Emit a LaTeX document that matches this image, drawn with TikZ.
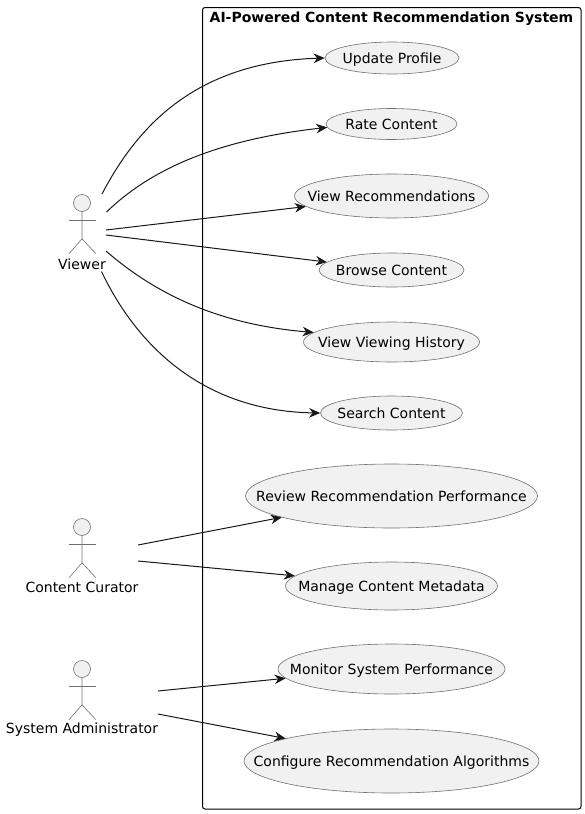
\documentclass[tikz,border=0pt]{standalone}
\usepackage{fontspec}
\setmainfont{DejaVu Sans}
\usetikzlibrary{arrows.meta,shapes.geometric}
\definecolor{ucfill}{HTML}{F1F1F1}
\definecolor{ucline}{HTML}{181818}
\definecolor{thinline}{HTML}{707070}
\newcommand{\uctext}[1]{\smash{\makebox[0pt]{\raisebox{-5pt}{#1}}}}
\tikzstyle{usecase}=[ellipse,draw=thinline,line width=.6pt,fill=ucfill,inner sep=0pt,font=\fontsize{14}{16}\selectfont,text=black]
\tikzstyle{head}=[circle,draw=thinline,line width=.6pt,fill=ucfill,minimum size=17pt,inner sep=0pt]
\tikzstyle{limb}=[draw=thinline,line width=.6pt]
\tikzstyle{actorname}=[inner sep=0pt,font=\fontsize{14}{16}\selectfont]
\tikzstyle{edge}=[draw=ucline,line width=1pt,-{Stealth[length=11pt,width=9.5pt,inset=3.5pt]}]

\begin{document}
\begin{tikzpicture}[x=1pt,y=-1pt]
        \useasboundingbox (0,0) rectangle (585,814);
        \node[draw=black,line width=1pt,rounded corners=2.5pt,minimum width=378.5pt,minimum height=801.5pt,inner sep=0pt] (system) at (391.75,408.25) {};
        \node[inner sep=0pt,font=\fontsize{14}{16}\selectfont\bfseries] (title) at (391.5,19) {AI-Powered Content Recommendation System};
        % use cases
        \node[usecase,minimum width=134pt,minimum height=32pt] (update) at (392,58) {\uctext{Update Profile}};
        \node[usecase,minimum width=131pt,minimum height=31pt] (rate) at (391.5,124) {\uctext{Rate Content}};
        \node[usecase,minimum width=194pt,minimum height=44pt] (recs) at (391.5,196) {\uctext{View Recommendations}};
        \node[usecase,minimum width=145pt,minimum height=34pt] (browse) at (391.5,270) {\uctext{Browse Content}};
        \node[usecase,minimum width=176pt,minimum height=40pt] (history) at (391.5,342) {\uctext{View Viewing History}};
        \node[usecase,minimum width=142pt,minimum height=34pt] (search) at (391.5,413) {\uctext{Search Content}};
        \node[usecase,minimum width=292pt,minimum height=64pt] (review) at (391.5,496) {\uctext{Review Recommendation Performance}};
        \node[usecase,minimum width=212pt,minimum height=48pt] (metadata) at (391.5,586) {\uctext{Manage Content Metadata}};
        \node[usecase,minimum width=227pt,minimum height=50pt] (monitor) at (391.5,669) {\uctext{Monitor System Performance}};
        \node[usecase,minimum width=295pt,minimum height=64pt] (configure) at (391.5,761) {\uctext{Configure Recommendation Algorithms}};
        % actors
        \node[head] (viewer) at (82,203) {};
        \draw[limb] (viewer.south) -- +(0,27) -- +(-13,42);
        \draw[limb] (viewer.south) ++(0,27) -- +(14,15);
        \draw[limb] (viewer.south) ++(-13.5,8) -- +(27,0);
        \node[actorname] (viewername) at (82,264) {Viewer};
        \node[head] (curator) at (82,527) {};
        \draw[limb] (curator.south) -- +(0,27) -- +(-13,42);
        \draw[limb] (curator.south) ++(0,27) -- +(14,15);
        \draw[limb] (curator.south) ++(-13.5,8) -- +(27,0);
        \node[actorname] (curatorname) at (82,587) {Content Curator};
        \node[head] (admin) at (82,669) {};
        \draw[limb] (admin.south) -- +(0,27) -- +(-13,42);
        \draw[limb] (admin.south) ++(0,27) -- +(14,15);
        \draw[limb] (admin.south) ++(-13.5,8) -- +(27,0);
        \node[actorname] (adminname) at (82,730) {System Administrator};
        % free ends
        \coordinate (v1) at (102,194);
        \coordinate (v2) at (106.5,212);
        \coordinate (v3) at (106,230);
        \coordinate (v4) at (106,235);
        \coordinate (v5) at (106,251);
        \coordinate (v6) at (101.5,271.5);
        \coordinate (c1) at (138,545);
        \coordinate (c2) at (138,561);
        \coordinate (a1) at (158,691);
        \coordinate (a2) at (158,714);
        % connectors
        \draw[edge] (v1) .. controls (138,125) and (197,62) .. (update.west);
        \draw[edge] (v2) .. controls (150,170) and (215,140) .. (rate.183);
        \draw[edge] (v3) to (recs.187);
        \draw[edge] (v4) to (browse.173);
        \draw[edge] (v5) .. controls (160,298) and (225,325) .. (history.173);
        \draw[edge] (v6) .. controls (135,342) and (200,411) .. (search.west);
        \draw[edge] (c1) to (review.191);
        \draw[edge] (c2) to (metadata.174);
        \draw[edge] (a1) to (monitor.185.5);
        \draw[edge] (a2) to (configure.168.8);
      \end{tikzpicture}
\end{document}
